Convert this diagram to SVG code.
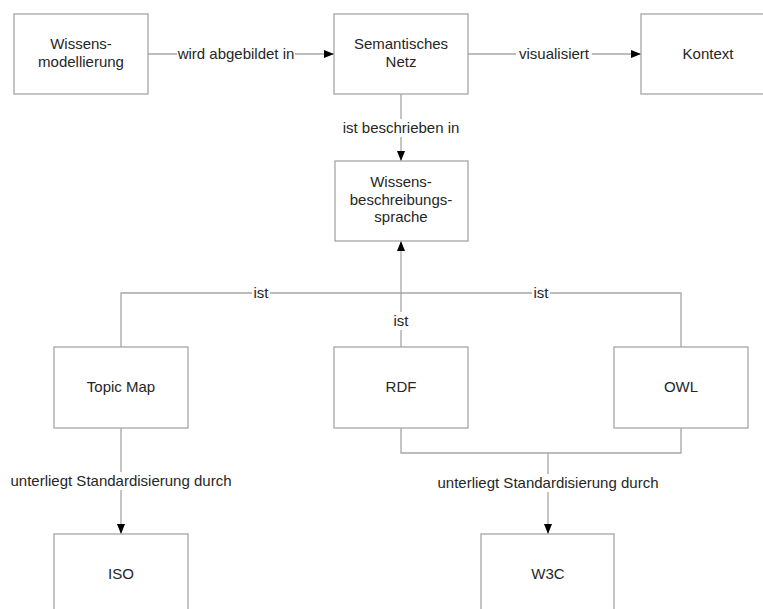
<svg xmlns="http://www.w3.org/2000/svg" width="763" height="609" viewBox="0 0 763 609">
  <style>
    .box { fill: #ffffff; stroke: #a6a6a6; stroke-width: 1.3; }
    .wire { fill: none; stroke: #a6a6a6; stroke-width: 1.3; }
    text { font-family: "Liberation Sans", Arial, sans-serif; font-size: 15px; fill: #262626; text-anchor: middle; }
    .lbl-bg { fill: #ffffff; }
  </style>
  <defs>
    <marker id="arrow" viewBox="0 0 10 8" refX="10" refY="4" markerWidth="10" markerHeight="8" markerUnits="userSpaceOnUse" orient="auto">
      <path d="M0,0 L10,4 L0,8 Z" fill="#000000"/>
    </marker>
  </defs>
  <rect width="763" height="609" fill="#ffffff"/>

  <g id="connectors">
    <!-- Wissensmodellierung -> Semantisches Netz -->
    <line class="wire" x1="148" y1="54" x2="334" y2="54" marker-end="url(#arrow)"/>
    <!-- Semantisches Netz -> Kontext -->
    <line class="wire" x1="468" y1="54" x2="641" y2="54" marker-end="url(#arrow)"/>
    <!-- Semantisches Netz -> Wissensbeschreibungssprache -->
    <line class="wire" x1="401" y1="94" x2="401" y2="161" marker-end="url(#arrow)"/>
    <!-- Topic Map / OWL bus into the language box -->
    <polyline class="wire" points="121,347 121,293 681,293 681,347"/>
    <!-- RDF -> Wissensbeschreibungssprache -->
    <line class="wire" x1="401" y1="347" x2="401" y2="241" marker-end="url(#arrow)"/>
    <!-- Topic Map -> ISO -->
    <line class="wire" x1="121" y1="428" x2="121" y2="534" marker-end="url(#arrow)"/>
    <!-- RDF + OWL -> W3C -->
    <polyline class="wire" points="401,428 401,453 681,453 681,428"/>
    <line class="wire" x1="548" y1="453" x2="548" y2="534" marker-end="url(#arrow)"/>

    <!-- connector labels -->
    <rect class="lbl-bg" x="177" y="45" width="118" height="18"/>
    <text x="236" y="59">wird abgebildet in</text>
    <rect class="lbl-bg" x="516" y="45" width="76" height="18"/>
    <text x="554" y="59">visualisiert</text>
    <rect class="lbl-bg" x="340" y="119" width="122" height="18"/>
    <text x="401" y="133">ist beschrieben in</text>
    <rect class="lbl-bg" x="252" y="285" width="18" height="16"/>
    <text x="261" y="298">ist</text>
    <rect class="lbl-bg" x="532" y="285" width="18" height="16"/>
    <text x="541" y="298">ist</text>
    <rect class="lbl-bg" x="391" y="312" width="20" height="18"/>
    <text x="401" y="326">ist</text>
    <rect class="lbl-bg" x="9" y="472" width="224" height="18"/>
    <text x="121" y="486">unterliegt Standardisierung durch</text>
    <rect class="lbl-bg" x="436" y="474" width="224" height="18"/>
    <text x="548" y="488">unterliegt Standardisierung durch</text>
  </g>

  <g id="wissensmodellierung">
    <rect class="box" x="14" y="14" width="134" height="80"/>
    <text x="81" y="49">Wissens-</text>
    <text x="81" y="67">modellierung</text>
  </g>
  <g id="semantisches-netz">
    <rect class="box" x="334" y="14" width="134" height="80"/>
    <text x="401" y="49">Semantisches</text>
    <text x="401" y="67">Netz</text>
  </g>
  <g id="kontext">
    <rect class="box" x="641" y="14" width="134" height="80"/>
    <text x="708" y="59">Kontext</text>
  </g>
  <g id="wissensbeschreibungssprache">
    <rect class="box" x="335" y="161" width="133" height="80"/>
    <text x="401" y="187">Wissens-</text>
    <text x="401" y="205">beschreibungs-</text>
    <text x="401" y="222">sprache</text>
  </g>
  <g id="topic-map">
    <rect class="box" x="54" y="347" width="134" height="81"/>
    <text x="121" y="392">Topic Map</text>
  </g>
  <g id="rdf">
    <rect class="box" x="334" y="347" width="134" height="81"/>
    <text x="401" y="392">RDF</text>
  </g>
  <g id="owl">
    <rect class="box" x="614" y="347" width="134" height="81"/>
    <text x="681" y="392">OWL</text>
  </g>
  <g id="iso">
    <rect class="box" x="54" y="534" width="134" height="81"/>
    <text x="121" y="579">ISO</text>
  </g>
  <g id="w3c">
    <rect class="box" x="481" y="534" width="133" height="81"/>
    <text x="548" y="579">W3C</text>
  </g>
</svg>
